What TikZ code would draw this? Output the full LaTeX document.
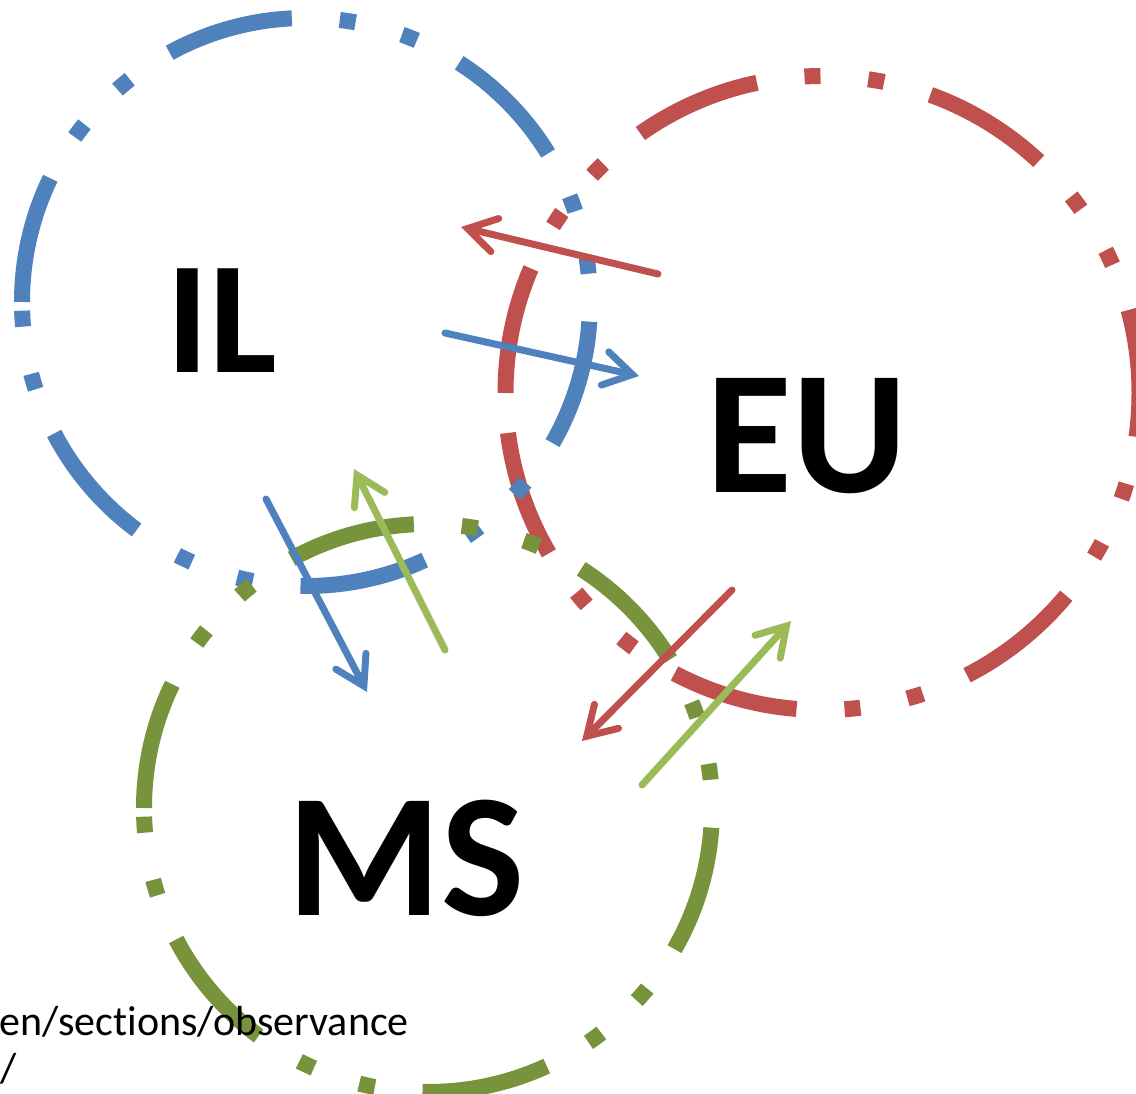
\documentclass[tikz,border=0pt]{standalone}
\usepackage{fontspec}
\setmainfont{Carlito}[Ligatures=NoCommon]
\usetikzlibrary{arrows.meta}
\definecolor{cblue}{HTML}{4F81BD}
\definecolor{cred}{HTML}{C0504D}
\definecolor{cgreen}{HTML}{77933C}
\definecolor{lgreen}{HTML}{9BBB59}
\begin{document}
\begin{tikzpicture}[x=1pt,y=-1pt,
  ring/.style={line width=16pt, dash pattern=on 128pt off 48pt on 16pt off 48pt on 16pt off 48pt},
  flow/.style={line width=7pt, line cap=round,
    -{Straight Barb[length=28pt,width=34pt,line cap=round,line join=miter]}},
  bigA/.style={font=\fontsize{160}{160}\selectfont\bfseries, inner sep=0pt, anchor=base},
  bigB/.style={font=\fontsize{176}{176}\selectfont\bfseries, inner sep=0pt, anchor=base},
  url/.style={font=\fontsize{42}{42}\selectfont, inner sep=0pt},
]
\useasboundingbox (0,0) rectangle (1136,1094);
% circles
\draw[ring, cred] (505.5,393) arc[start angle=180, end angle=-180, radius=317pt];
\draw[ring, cblue] (22,302) arc[start angle=180, end angle=-180, radius=284pt];
\draw[ring, cgreen] (144,808) arc[start angle=180, end angle=-180, radius=284pt];
% arrow end points
\coordinate (r1s) at (658,274);
\coordinate (r1e) at (461,227);
\coordinate (b1s) at (445,333);
\coordinate (b1e) at (639,376);
\coordinate (b2s) at (266,499);
\coordinate (b2e) at (367,692);
\coordinate (g1s) at (445,650);
\coordinate (g1e) at (354,469);
\coordinate (r2s) at (732,590);
\coordinate (r2e) at (582,741);
\coordinate (g2s) at (642,785);
\coordinate (g2e) at (791,621);
\draw[flow, cred] (r1s) -- (r1e);
\draw[flow, cblue] (b1s) -- (b1e);
\draw[flow, cblue] (b2s) -- (b2e);
\draw[flow, lgreen] (g1s) -- (g1e);
\draw[flow, cred] (r2s) -- (r2e);
\draw[flow, lgreen] (g2s) -- (g2e);
% labels
\node[bigA] (il) at (222,372) {IL};
\node[bigB] (eu) at (807,492) {EU};
\node[bigB] (ms) at (406,915) {MS};
\node[url, anchor=base east] (u1) at (409,1035) {en/sections/observance};
\node[url, anchor=base west] (u2) at (0,1082) {/};
\end{tikzpicture}
\end{document}
